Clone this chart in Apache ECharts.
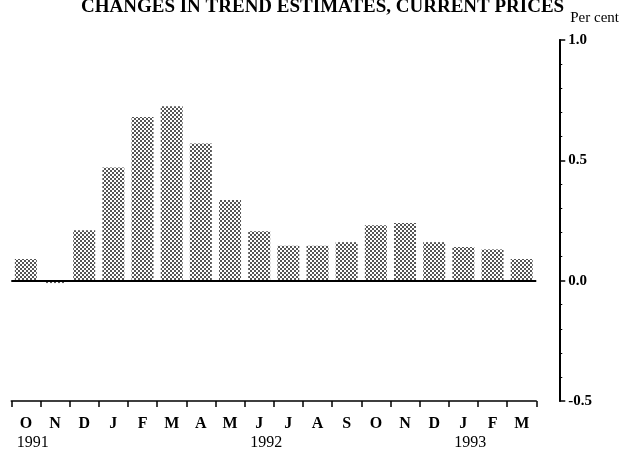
<!DOCTYPE html>
<html>
<head>
<meta charset="utf-8">
<title>Changes in trend estimates, current prices</title>
<script src="https://cdn.jsdelivr.net/npm/echarts@6/dist/echarts.min.js"></script>
<style>
  html, body { margin: 0; padding: 0; background: #fff; }
  #chart { width: 622px; height: 451px; }
</style>
</head>
<body>
<div id="chart"></div>
<script>
// periods Oct 1991 - Mar 1993
var periods = ['1991-10', '1991-11', '1991-12', '1992-01', '1992-02', '1992-03', '1992-04', '1992-05', '1992-06',
               '1992-07', '1992-08', '1992-09', '1992-10', '1992-11', '1992-12', '1993-01', '1993-02', '1993-03'];
var monthLabels = ['O', 'N', 'D', 'J', 'F', 'M', 'A', 'M', 'J', 'J', 'A', 'S', 'O', 'N', 'D', 'J', 'F', 'M'];
var yearLabels = ['1991', '', '', '', '', '', '', '', '1992', '', '', '', '', '', '', '1993', '', ''];
// per cent change
var changes = [0.09, -0.01, 0.21, 0.47, 0.68, 0.725, 0.57, 0.335, 0.205, 0.145, 0.145, 0.16, 0.23, 0.24, 0.16, 0.14, 0.13, 0.09];
var yTicks = [-0.5, 0.0, 0.5, 1.0];

// halftone fill like the printed figure
function dotPattern() {
  var c = document.createElement('canvas');
  c.width = 4; c.height = 4;
  var ctx = c.getContext('2d');
  ctx.fillStyle = '#fff';
  ctx.fillRect(0, 0, 4, 4);
  ctx.fillStyle = '#555';
  ctx.fillRect(0, 0, 2, 2);
  ctx.fillRect(2, 2, 2, 2);
  return c;
}

var serif = '"Liberation Serif", "DejaVu Serif", serif';
var chart = echarts.init(document.getElementById('chart'));

var option = {
  animation: false,
  title: {
    text: 'CHANGES IN TREND ESTIMATES, CURRENT PRICES',
    left: 76,
    top: -7,
    textStyle: { fontFamily: serif, fontWeight: 'bold', fontSize: 19, color: '#000' }
  },
  grid: { left: 10, right: 82, top: 40, bottom: 49 },
  xAxis: {
    type: 'category',
    data: periods,
    boundaryGap: true,
    axisLine: { onZero: false, lineStyle: { color: '#000', width: 1.5 } },
    axisTick: { show: true, length: 6, lineStyle: { color: '#000', width: 1.5 } },
    axisLabel: {
      interval: 0,
      margin: 13,
      formatter: function (v, i) {
        return yearLabels[i] ? '{m|' + monthLabels[i] + '}\n{y|' + yearLabels[i] + '}' : '{m|' + monthLabels[i] + '}';
      },
      rich: {
        m: { fontFamily: serif, fontWeight: 'bold', fontSize: 16, lineHeight: 20, color: '#000' },
        y: { fontFamily: serif, fontSize: 16, lineHeight: 18, color: '#000', padding: [0, 0, 0, 14] }
      }
    },
    splitLine: { show: false }
  },
  yAxis: {
    type: 'value',
    position: 'right',
    offset: 23,
    min: yTicks[0],
    max: yTicks[yTicks.length - 1],
    interval: 0.5,
    name: 'Per cent',
    nameLocation: 'end',
    nameGap: 14,
    nameTextStyle: { fontFamily: serif, fontSize: 15, color: '#000', align: 'left', padding: [0, 0, 0, 11] },
    axisLine: { show: true, lineStyle: { color: '#000', width: 2 } },
    axisTick: { show: true, inside: false, length: 6, lineStyle: { color: '#000', width: 1.5 } },
    minorTick: { show: true, splitNumber: 5, length: 3, lineStyle: { color: '#000', width: 1 } },
    axisLabel: {
      margin: 9,
      fontFamily: serif,
      fontWeight: 'bold',
      fontSize: 15,
      color: '#000',
      formatter: function (v) { return v.toFixed(1); }
    },
    splitLine: { show: false }
  },
  series: [{
    type: 'bar',
    data: changes,
    barWidth: 22,
    itemStyle: { color: { image: dotPattern(), repeat: 'repeat' } },
    markLine: {
      silent: true,
      symbol: 'none',
      label: { show: false },
      lineStyle: { color: '#000', width: 2, type: 'solid' },
      data: [{ yAxis: 0 }]
    }
  }]
};

chart.setOption(option);
</script>
</body>
</html>
